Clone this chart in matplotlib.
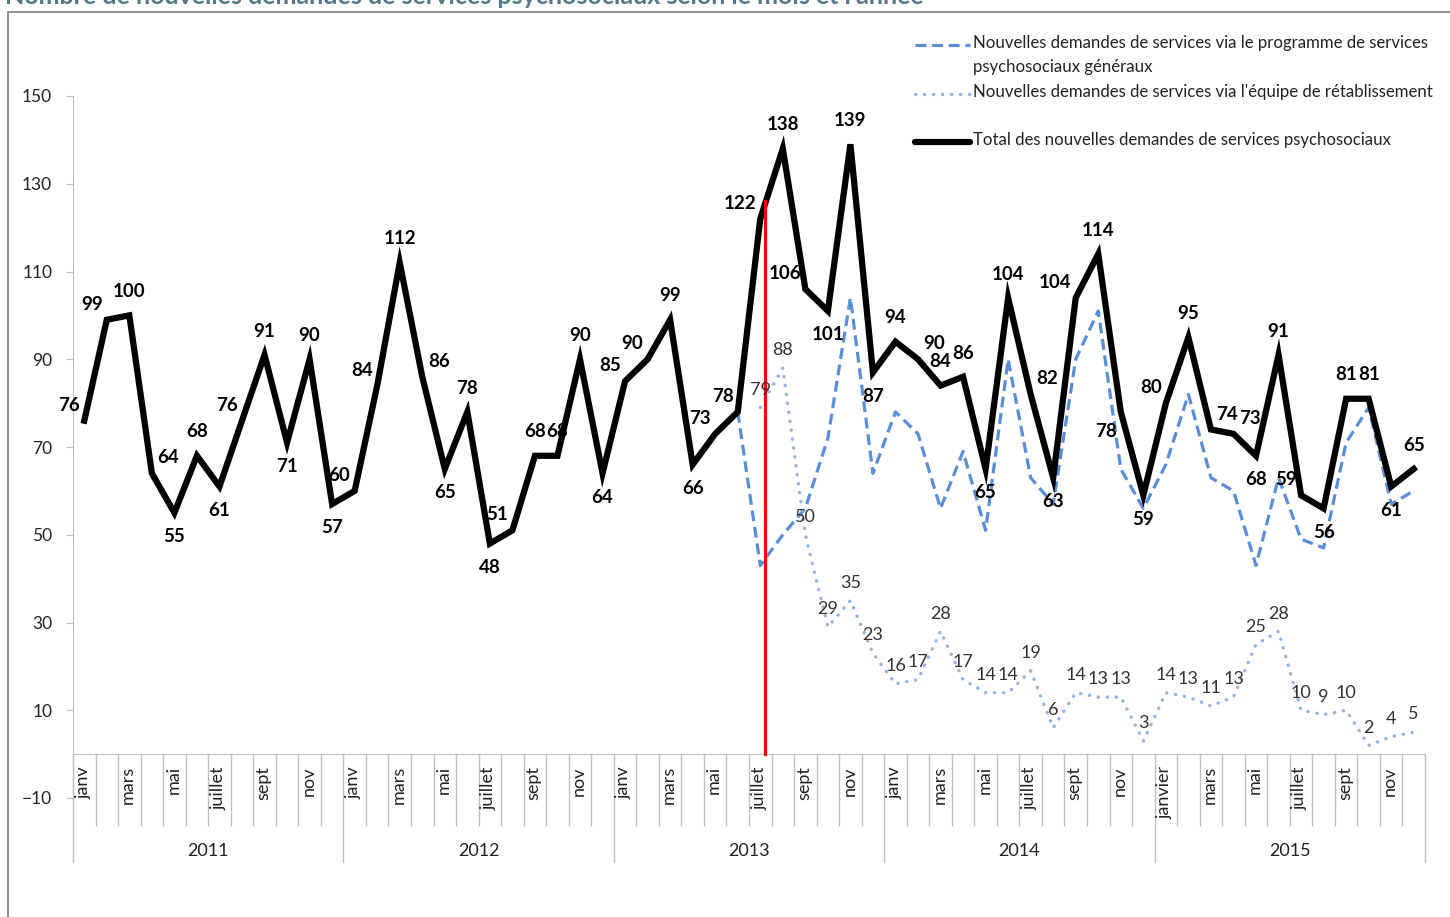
import matplotlib.pyplot as plt
import numpy as np
from matplotlib.lines import Line2D
from matplotlib.patches import Rectangle

plt.rcParams['font.family'] = ['Lato', 'DejaVu Sans']

years = ['2011', '2012', '2013', '2014', '2015']
month_names = ['janv', 'févr', 'mars', 'avr', 'mai', 'juin',
               'juillet', 'août', 'sept', 'oct', 'nov', 'déc']
month_names_2015 = ['janvier'] + month_names[1:]

# total des nouvelles demandes (janv 2011 -> déc 2015)
total = [76, 99, 100, 64, 55, 68, 61, 76, 91, 71, 90, 57,
         60, 84, 112, 86, 65, 78, 48, 51, 68, 68, 90, 64,
         85, 90, 99, 66, 73, 78, 122, 138, 106, 101, 139, 87,
         94, 90, 84, 86, 65, 104, 82, 63, 104, 114, 78, 59,
         80, 95, 74, 73, 68, 91, 59, 56, 81, 81, 61, 65]

# programme de services psychosociaux généraux (juin 2013 -> déc 2015)
general_start = 29
general = [78, 43, 50, 56, 72, 104, 64,
           78, 73, 56, 69, 51, 90, 63, 57, 90, 101, 65, 56,
           66, 82, 63, 60, 43, 63, 49, 47, 71, 79, 57, 60]

# équipe de rétablissement (juillet 2013 -> déc 2015)
retab_start = 30
retab = [79, 88, 50, 29, 35, 23,
         16, 17, 28, 17, 14, 14, 19, 6, 14, 13, 13, 3,
         14, 13, 11, 13, 25, 28, 10, 9, 10, 2, 4, 5]

labels = [
    "Nouvelles demandes de services via le programme de services\npsychosociaux généraux",
    "Nouvelles demandes de services via l'équipe de rétablissement",
    "Total des nouvelles demandes de services psychosociaux",
]

c_dash = '#5A8ED6'
c_dot = '#92B4DE'
c_axis = '#BFBFBF'
c_text = '#222222'

# label placement for the total series
placements = {
    'above': (0, 11, 'bottom', 'center'),
    'below': (0, -11, 'top', 'center'),
    'left': (-3, 5, 'bottom', 'right'),
    'right': (4, 5, 'bottom', 'left'),
    'leftbelow': (-3, -8, 'top', 'right'),
}
label_override = {21: 'above', 32: 'left', 38: 'above', 46: 'leftbelow', 54: 'left'}

fig = plt.figure(figsize=(14.5, 9.17), dpi=100)
ax = fig.add_axes([73 / 1450, 1 - 798 / 917, 1352 / 1450, 702 / 917])

n = len(total)
x = np.arange(n)
xg = np.arange(general_start, general_start + len(general))
xr = np.arange(retab_start, retab_start + len(retab))

ax.plot(xg, general, color=c_dash, lw=2.3, dashes=(3.4, 1.8), zorder=3)
ax.plot(xr, retab, color=c_dot, lw=2.4, linestyle=(0, (0.1, 2.6)),
        dash_capstyle='round', zorder=3)
ax.plot(x, total, color='black', lw=4.5, solid_joinstyle='miter', zorder=4)

# red marker line at juillet 2013
ax.plot([30.2, 30.2], [0, 126], color='red', lw=2.3, zorder=5)

ax.set_xlim(-0.5, n - 0.5)
ax.set_ylim(-10, 150)

for i, v in enumerate(total):
    prev = total[i - 1] if i > 0 else v
    nxt = total[i + 1] if i < n - 1 else v
    if i in label_override:
        pos = label_override[i]
    elif v >= prev and v >= nxt:
        pos = 'above'
    elif v < prev and v <= nxt:
        pos = 'below'
    elif v < nxt:
        pos = 'left'
    else:
        pos = 'right'
    dx, dy, va, ha = placements[pos]
    ax.annotate(str(v), (i, v), xytext=(dx, dy), textcoords='offset points',
                ha=ha, va=va, fontsize=13.5, fontweight='bold', color='black',
                zorder=6)

for i, v in zip(xr, retab):
    ax.annotate(str(v), (i, v), xytext=(0, 7), textcoords='offset points',
                ha='center', va='bottom', fontsize=13, color='#333333', zorder=6)

# axes styling
for s in ['top', 'right']:
    ax.spines[s].set_visible(False)
ax.spines['bottom'].set_position(('data', 0))
ax.spines['bottom'].set_color(c_axis)
ax.spines['left'].set_color(c_axis)
ax.set_xticks([])
ax.set_yticks(np.arange(-10, 151, 20))
ax.tick_params(axis='y', length=5, color=c_axis, labelsize=12.5,
               labelcolor=c_text, pad=10)

# multi-level category axis
px = 702 / 160.0
for b in range(n + 1):
    if b % 12 == 0:
        y_end = -108 / px
    else:
        y_end = -71 / px
    ax.plot([b - 0.5, b - 0.5], [0, y_end], color=c_axis, lw=1, clip_on=False)
for k, yr in enumerate(years):
    names = month_names_2015 if yr == '2015' else month_names
    for m in range(0, 12, 2):
        ax.text(k * 12 + m - 0.05, -12 / px, names[m], rotation=90,
                ha='center', va='top', fontsize=13, color=c_text,
                clip_on=False)
    ax.text(k * 12 + 5.5, -97 / px, yr, ha='center', va='center',
            fontsize=13, color=c_text, clip_on=False)

# legend
W, H = 1450.0, 917.0
leg_x0, leg_x1, tx = 915 / W, 970 / W, 973 / W
rows = [(45, labels[0]), (94, labels[1]), (142, labels[2])]
styles = [dict(color=c_dash, lw=2.3, dashes=(3.4, 1.8)),
          dict(color=c_dot, lw=2.4, linestyle=(0, (0.1, 2.6)), dash_capstyle='round'),
          dict(color='black', lw=4.5, solid_capstyle='round')]
for (yp, lab), st in zip(rows, styles):
    fig.add_artist(Line2D([leg_x0, leg_x1], [1 - yp / H, 1 - yp / H],
                          transform=fig.transFigure, **st))
    fig.text(tx, 1 - (yp - 10) / H, lab, ha='left', va='top', fontsize=12.1,
             color=c_text, linespacing=1.65)

# chart frame and title (title partly cut at the top, as in the source)
fig.add_artist(Rectangle((8 / W, -0.1), 1.2, 1 - 12 / H + 0.1,
                         transform=fig.transFigure, fill=False,
                         edgecolor='#888888', lw=1.3))
fig.text(5 / W, 1 + 4 / H, "Nombre de nouvelles demandes de services psychosociaux selon le mois et l'année",
         ha='left', va='center', fontsize=18, fontweight='bold', color='#52798A')

fig.savefig('out.png', dpi=100)
